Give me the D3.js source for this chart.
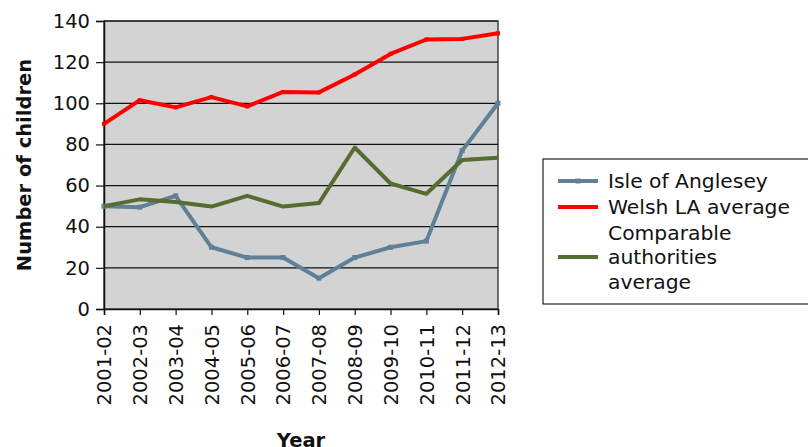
<!DOCTYPE html>
<html>
<head>
<meta charset="utf-8">
<script src="https://cdn.jsdelivr.net/npm/d3@7"></script>
<style>
body { margin: 0; background: #fff; }
svg { display: block; font-family: "DejaVu Sans", Verdana, sans-serif; }
</style>
</head>
<body>
<svg id="chart" width="808" height="447"></svg>
<script>
var years = ['2001-02', '2002-03', '2003-04', '2004-05', '2005-06', '2006-07',
             '2007-08', '2008-09', '2009-10', '2010-11', '2011-12', '2012-13'];
var anglesey = [50, 49.5, 55, 30, 25, 25, 15, 25, 30, 33, 77, 100];
var welsh = [90, 101.5, 98, 103, 98.5, 105.5, 105.3, 114, 124, 131, 131.3, 134];
var comparable = [50, 53.3, 52, 49.8, 55, 49.8, 51.5, 78.5, 61, 56, 72.4, 73.5];
var yTicks = [0, 20, 40, 60, 80, 100, 120, 140];

var series = [
    {name: ['Isle of Anglesey'], values: anglesey, color: '#5f8097', marker: 5},
    {name: ['Welsh LA average'], values: welsh, color: '#ff0000', marker: 4},
    {name: ['Comparable', 'authorities', 'average'], values: comparable, color: '#566c30', marker: 0}
];

function draw_chart() {
    var pLeft = 104, pRight = 498, pTop = 21, pBottom = 309;
    var svg = d3.select('#chart');

    var xs = d3.scalePoint().domain(years).range([pLeft, pRight]);
    var ys = d3.scaleLinear().domain([0, 140]).range([pBottom, pTop]);

    // plot background
    svg.append('rect')
        .attr('x', pLeft).attr('y', pTop)
        .attr('width', pRight - pLeft).attr('height', pBottom - pTop)
        .attr('fill', '#d3d3d3')
        .attr('stroke', '#444').attr('stroke-width', 1.5);

    // grid lines
    svg.append('g').selectAll('line').data(yTicks.slice(1)).enter().append('line')
        .attr('x1', pLeft).attr('x2', pRight)
        .attr('y1', function (d) {return ys(d)})
        .attr('y2', function (d) {return ys(d)})
        .attr('stroke', '#111').attr('stroke-width', 1.2);

    // y axis
    var yAxis = svg.append('g')
        .attr('transform', 'translate(' + pLeft + ',0)')
        .call(d3.axisLeft(ys).tickValues(yTicks).tickSize(8).tickPadding(6));
    yAxis.select('.domain').attr('stroke', '#111').attr('stroke-width', 1.5);
    yAxis.selectAll('line').attr('stroke', '#111').attr('stroke-width', 1.2);
    yAxis.selectAll('text').attr('font-size', 19.5).attr('fill', '#111')
        .attr('font-family', '"DejaVu Sans", Verdana, sans-serif');

    // x axis
    var xAxis = svg.append('g')
        .attr('transform', 'translate(0,' + pBottom + ')')
        .call(d3.axisBottom(xs).tickSize(6).tickPadding(6));
    xAxis.select('.domain').attr('stroke', '#111').attr('stroke-width', 1.5);
    xAxis.selectAll('line').attr('stroke', '#111').attr('stroke-width', 1.2);
    xAxis.selectAll('text')
        .attr('font-size', 19.5).attr('fill', '#111')
        .attr('font-family', '"DejaVu Sans", Verdana, sans-serif')
        .attr('transform', 'rotate(-90)')
        .attr('text-anchor', 'end')
        .attr('x', -15).attr('y', 0).attr('dy', '0.35em');

    // lines
    var line = d3.line()
        .x(function (d, i) {return xs(years[i])})
        .y(function (d) {return ys(d)});

    series.forEach(function (s) {
        svg.append('path')
            .datum(s.values)
            .attr('d', line)
            .attr('fill', 'none')
            .attr('stroke', s.color)
            .attr('stroke-width', 4)
            .attr('stroke-linejoin', 'round');
        if (s.marker) {
            svg.append('g').selectAll('rect').data(s.values).enter().append('rect')
                .attr('x', function (d, i) {return xs(years[i]) - s.marker / 2})
                .attr('y', function (d) {return ys(d) - s.marker / 2})
                .attr('width', s.marker).attr('height', s.marker)
                .attr('fill', s.color);
        }
    });

    // axis titles
    svg.append('text')
        .attr('transform', 'translate(31,' + ((pTop + pBottom) / 2) + ') rotate(-90)')
        .attr('text-anchor', 'middle')
        .attr('font-size', 19.5).attr('font-weight', 'bold').attr('fill', '#111')
        .text('Number of children');

    svg.append('text')
        .attr('x', 301).attr('y', 447)
        .attr('text-anchor', 'middle')
        .attr('font-size', 19.5).attr('font-weight', 'bold').attr('fill', '#111')
        .text('Year');

    // legend
    var legend = svg.append('g');
    legend.append('rect')
        .attr('x', 543).attr('y', 159)
        .attr('width', 280).attr('height', 145)
        .attr('fill', '#fff').attr('stroke', '#222').attr('stroke-width', 1.2);

    var rowY = [181, 207, 257];
    series.forEach(function (s, k) {
        legend.append('line')
            .attr('x1', 558).attr('x2', 598)
            .attr('y1', rowY[k]).attr('y2', rowY[k])
            .attr('stroke', s.color).attr('stroke-width', 4);
        if (s.marker) {
            legend.append('rect')
                .attr('x', 578 - s.marker / 2).attr('y', rowY[k] - s.marker / 2)
                .attr('width', s.marker).attr('height', s.marker)
                .attr('fill', s.color);
        }
        var t = legend.append('text')
            .attr('x', 608)
            .attr('font-size', 20.3).attr('fill', '#111');
        var first = rowY[k] - (s.name.length - 1) * 24.5 / 2;
        s.name.forEach(function (nm, j) {
            t.append('tspan')
                .attr('x', 608)
                .attr('y', first + j * 24.5)
                .attr('dy', '0.35em')
                .text(nm);
        });
    });
}

draw_chart();
</script>
</body>
</html>
